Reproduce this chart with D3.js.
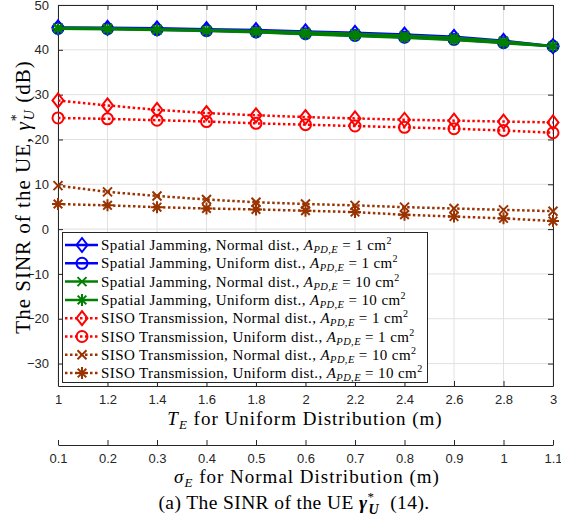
<!DOCTYPE html>
<html>
<head>
<meta charset="utf-8">
<script src="https://cdn.jsdelivr.net/npm/d3@7"></script>
<style>
  body { margin: 0; background: #fff; }
  svg { display: block; }
  .tick text { font-family: "Liberation Sans", Arial, sans-serif; font-size: 13px; fill: #262626; }
  .serif { font-family: "Liberation Serif", "Times New Roman", serif; fill: #000; }
</style>
</head>
<body>
<div id="chart"></div>
<script>
// x values (T_E for uniform, sigma_E for normal share the same positions)
const tE = [1, 1.2, 1.4, 1.6, 1.8, 2, 2.2, 2.4, 2.6, 2.8, 3];
const sigmaTicks = [0.1, 0.2, 0.3, 0.4, 0.5, 0.6, 0.7, 0.8, 0.9, 1, 1.1];
const yTicks = [-30, -20, -10, 0, 10, 20, 30, 40, 50];

// SINR values (dB)
const sjNormal1 = [45.0, 44.9, 44.8, 44.6, 44.4, 44.1, 43.8, 43.4, 42.9, 42.0, 40.8];
const sjUniform1 = [44.8, 44.7, 44.5, 44.3, 44.0, 43.6, 43.2, 42.8, 42.3, 41.6, 40.8];
const sjNormal10 = [44.9, 44.8, 44.6, 44.4, 44.2, 43.9, 43.6, 43.2, 42.7, 41.9, 40.8];
const sjUniform10 = [44.7, 44.6, 44.4, 44.2, 43.9, 43.5, 43.1, 42.7, 42.2, 41.5, 40.8];
const sisoNormal1 = [28.7, 27.6, 26.6, 25.9, 25.4, 25.0, 24.7, 24.4, 24.2, 24.0, 23.8];
const sisoUniform1 = [24.8, 24.6, 24.3, 24.0, 23.6, 23.3, 23.0, 22.7, 22.4, 22.0, 21.5];
const sisoNormal10 = [9.7, 8.3, 7.4, 6.6, 6.0, 5.6, 5.3, 4.9, 4.6, 4.3, 4.0];
const sisoUniform10 = [5.6, 5.3, 4.9, 4.6, 4.4, 4.1, 3.8, 3.2, 2.8, 2.4, 1.8];

const series = [
  { name: "Spatial Jamming, Normal dist., ", area: "1", values: sjNormal1, color: "#0000ff", dash: null, marker: "diamond" },
  { name: "Spatial Jamming, Uniform dist., ", area: "1", values: sjUniform1, color: "#0000ff", dash: null, marker: "circle" },
  { name: "Spatial Jamming, Normal dist., ", area: "10", values: sjNormal10, color: "#007f00", dash: null, marker: "x" },
  { name: "Spatial Jamming, Uniform dist., ", area: "10", values: sjUniform10, color: "#007f00", dash: null, marker: "star" },
  { name: "SISO Transmission, Normal dist., ", area: "1", values: sisoNormal1, color: "#ff0000", dash: "2.5,2.5", marker: "diamond" },
  { name: "SISO Transmission, Uniform dist., ", area: "1", values: sisoUniform1, color: "#ff0000", dash: "2.5,2.5", marker: "circle" },
  { name: "SISO Transmission, Normal dist., ", area: "10", values: sisoNormal10, color: "#993300", dash: "2.5,2.5", marker: "x" },
  { name: "SISO Transmission, Uniform dist., ", area: "10", values: sisoUniform10, color: "#993300", dash: "2.5,2.5", marker: "star" }
];

const W = 561, H = 527;
const pLeft = 58, pRight = 553, pTop = 5, pBottom = 386;

const svg = d3.select("#chart").append("svg").attr("width", W).attr("height", H);

const x = d3.scaleLinear().domain([1, 3]).range([pLeft, pRight]);
const x2 = d3.scaleLinear().domain([0.1, 1.1]).range([pLeft, pRight]);
const y = d3.scaleLinear().domain([-35, 50]).range([pBottom, pTop]);

// grid
const grid = svg.append("g");
grid.selectAll(".vg").data(tE).join("line")
  .attr("x1", d => x(d)).attr("x2", d => x(d)).attr("y1", pTop).attr("y2", pBottom)
  .attr("stroke", "#e1e1e1").attr("stroke-width", 1);
grid.selectAll(".hg").data(yTicks).join("line")
  .attr("y1", d => y(d)).attr("y2", d => y(d)).attr("x1", pLeft).attr("x2", pRight)
  .attr("stroke", "#e1e1e1").attr("stroke-width", 1);

// axes (MATLAB style: ticks inside, box on)
function styleAxis(g) {
  g.select(".domain").attr("stroke", "#262626");
  g.selectAll(".tick line").attr("stroke", "#262626");
}
svg.append("g").attr("transform", `translate(0,${pBottom})`)
  .call(d3.axisBottom(x).tickValues(tE).tickSizeInner(-5).tickSizeOuter(0).tickPadding(9).tickFormat(d3.format("")))
  .call(styleAxis);
svg.append("g").attr("transform", `translate(0,${pTop})`)
  .call(d3.axisTop(x).tickValues(tE).tickSizeInner(-5).tickSizeOuter(0).tickFormat(""))
  .call(styleAxis);
svg.append("g").attr("transform", `translate(${pLeft},0)`)
  .call(d3.axisLeft(y).tickValues(yTicks).tickSizeInner(-5).tickSizeOuter(0).tickPadding(9))
  .call(styleAxis);
svg.append("g").attr("transform", `translate(${pRight},0)`)
  .call(d3.axisRight(y).tickValues(yTicks).tickSizeInner(-5).tickSizeOuter(0).tickFormat(""))
  .call(styleAxis);
// second x-axis for sigma_E
svg.append("g").attr("transform", `translate(0,445)`)
  .call(d3.axisBottom(x2).tickValues(sigmaTicks).tickSizeInner(-5).tickSizeOuter(0).tickPadding(9).tickFormat(d3.format("")))
  .call(styleAxis);

// markers
function drawMarker(g, type, color, cx, cy) {
  const m = g.append("g").attr("transform", `translate(${cx},${cy})`)
    .attr("fill", "none").attr("stroke", color).attr("stroke-width", 2);
  if (type === "diamond") {
    m.append("path").attr("d", "M0,-7L5.5,0L0,7L-5.5,0Z");
  } else if (type === "circle") {
    m.append("circle").attr("r", 5.5);
  } else if (type === "x") {
    m.append("path").attr("d", "M-4.5,-4.5L4.5,4.5M-4.5,4.5L4.5,-4.5");
  } else if (type === "star") {
    m.append("path").attr("d", "M0,-6L0,6M-6,0L6,0M-4.3,-4.3L4.3,4.3M-4.3,4.3L4.3,-4.3");
  }
}

const line = d3.line().x((d, i) => x(tE[i])).y(d => y(d));
const plot = svg.append("g");
series.forEach(s => {
  plot.append("path").datum(s.values)
    .attr("d", line)
    .attr("fill", "none").attr("stroke", s.color).attr("stroke-width", 2.5)
    .attr("stroke-dasharray", s.dash);
  s.values.forEach((v, i) => drawMarker(plot, s.marker, s.color, x(tE[i]), y(v)));
});

// legend
const lg = svg.append("g");
lg.append("rect").attr("x", 62.5).attr("y", 232.5).attr("width", 365).attr("height", 150)
  .attr("fill", "#fff").attr("stroke", "#262626").attr("stroke-width", 1);
series.forEach((s, i) => {
  const cy = 245 + i * 18.3;
  lg.append("line").attr("x1", 65).attr("x2", 98).attr("y1", cy).attr("y2", cy)
    .attr("stroke", s.color).attr("stroke-width", 2.5).attr("stroke-dasharray", s.dash);
  drawMarker(lg, s.marker, s.color, 82, cy);
  const t = lg.append("text").attr("class", "serif").attr("x", 101).attr("y", cy + 5)
    .style("font-size", "15px").style("letter-spacing", "0.4px");
  t.append("tspan").text(s.name);
  t.append("tspan").style("font-style", "italic").text("A");
  t.append("tspan").style("font-style", "italic").style("font-size", "10.5px").attr("dy", 3).text("PD,E");
  t.append("tspan").attr("dy", -3).text(" = " + s.area + " cm");
  t.append("tspan").style("font-size", "10px").attr("dy", -6).text("2");
});

// axis labels
const xl = svg.append("text").attr("class", "serif").attr("text-anchor", "middle")
  .attr("x", 305).attr("y", 425).style("font-size", "19px").style("letter-spacing", "1px");
xl.append("tspan").style("font-style", "italic").text("T");
xl.append("tspan").style("font-style", "italic").style("font-size", "13px").attr("dy", 4).text("E");
xl.append("tspan").attr("dy", -4).text(" for Uniform Distribution (m)");

const xl2 = svg.append("text").attr("class", "serif").attr("text-anchor", "middle")
  .attr("x", 307).attr("y", 483).style("font-size", "19px").style("letter-spacing", "1px");
xl2.append("tspan").style("font-style", "italic").text("σ");
xl2.append("tspan").style("font-style", "italic").style("font-size", "13px").attr("dy", 4).text("E");
xl2.append("tspan").attr("dy", -4).text(" for Normal Distribution (m)");

const yl = svg.append("text").attr("class", "serif").attr("text-anchor", "middle")
  .attr("transform", `translate(30,197) rotate(-90)`).style("font-size", "21px").style("letter-spacing", "1px");
yl.append("tspan").text("The SINR of the UE, ");
yl.append("tspan").style("font-style", "italic").text("γ");
yl.append("tspan").style("font-size", "14px").attr("dy", -9).text("*");
yl.append("tspan").style("font-style", "italic").style("font-size", "14px").attr("dy", 13).attr("dx", -7).text("U");
yl.append("tspan").attr("dy", -4).text(" (dB)");

// caption
const cap = svg.append("text").attr("class", "serif").attr("text-anchor", "middle")
  .attr("x", 294).attr("y", 509).style("font-size", "19.5px").style("letter-spacing", "0.4px");
cap.append("tspan").text("(a) The SINR of the UE ");
cap.append("tspan").style("font-style", "italic").style("font-weight", "bold").text("γ");
cap.append("tspan").style("font-size", "13px").attr("dy", -8).text("*");
cap.append("tspan").style("font-style", "italic").style("font-weight", "bold").style("font-size", "14px").attr("dy", 13).attr("dx", -6).text("U");
cap.append("tspan").attr("dy", -5).attr("dx", 6).text(" (14).");
</script>
</body>
</html>
